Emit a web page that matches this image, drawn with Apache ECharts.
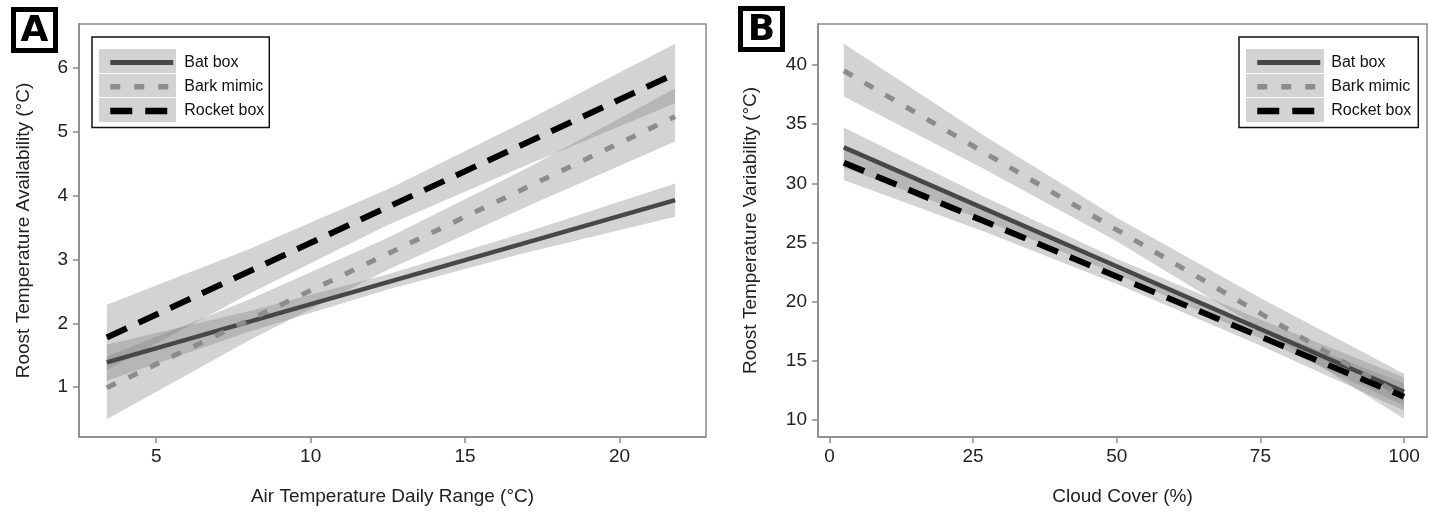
<!DOCTYPE html>
<html>
<head>
<meta charset="utf-8">
<script src="https://cdn.jsdelivr.net/npm/echarts@6/dist/echarts.min.js"></script>
<style>
html,body{margin:0;padding:0;background:#fff;}
#c{width:1434px;height:519px;}
</style>
</head>
<body>
<div id="c"></div>
<script>
// ---------- Panel A data ----------
const seriesNames = ['Bat box', 'Bark mimic', 'Rocket box'];
const lineA_x = [3.4, 21.8];
const batA = [1.39, 3.93];
const barkA = [0.99, 5.24];
const rocketA = [1.78, 5.91];
const bandA_x = [3.4, 8, 12.5, 17, 21.8];
const batA_lo = [1.10, 1.87, 2.53, 3.11, 3.67];
const batA_hi = [1.67, 2.19, 2.77, 3.43, 4.19];
const barkA_lo = [0.50, 1.73, 2.84, 3.83, 4.85];
const barkA_hi = [1.48, 2.37, 3.34, 4.43, 5.68];
const rocketA_lo = [1.27, 2.46, 3.54, 4.48, 5.45];
const rocketA_hi = [2.29, 3.16, 4.10, 5.18, 6.38];
const xTicksA = [5, 10, 15, 20];
const yTicksA = [1, 2, 3, 4, 5, 6];

// ---------- Panel B data ----------
const lineB_x = [2.5, 100];
const batB = [33.04, 12.39];
const barkB = [39.52, 11.93];
const rocketB = [31.75, 11.97];
const bandB_x = [2.5, 27, 50, 75, 100];
const batB_lo = [31.35, 26.85, 22.33, 16.9, 11.2];
const batB_hi = [34.73, 28.85, 23.63, 18.5, 13.6];
const barkB_lo = [37.35, 31.2, 25.1, 17.7, 10.1];
const barkB_hi = [41.8, 34.0, 27.1, 20.3, 13.9];
const rocketB_lo = [30.28, 25.9, 21.5, 16.3, 10.8];
const rocketB_hi = [33.2, 27.7, 22.7, 17.8, 13.1];
const xTicksB = [0, 25, 50, 75, 100];
const yTicksB = [10, 15, 20, 25, 30, 35, 40];

const FONT = 'Liberation Sans, Arial, sans-serif';
const AXIS_COLOR = '#8a8a8a';
const BAND_FILL = 'rgba(128,128,128,0.35)';
const styles = {
  'Bat box': {color: '#474747', width: 4.5, type: 'solid'},
  'Bark mimic': {color: '#8c8c8c', width: 5, type: [10, 14]},
  'Rocket box': {color: '#000000', width: 6, type: [22, 13]}
};

function bandSeries(idx, xs, lo, hi) {
  const rows = xs.map((x, i) => [x, lo[i], hi[i]]);
  return {
    type: 'custom', name: 'band', xAxisIndex: idx, yAxisIndex: idx,
    data: rows, silent: true, z: 1, animation: false,
    encode: {x: 0, y: [1, 2]},
    renderItem: function (params, api) {
      if (params.dataIndex !== 0) return null;
      const top = rows.map(r => api.coord([r[0], r[2]]));
      const bot = rows.map(r => api.coord([r[0], r[1]])).reverse();
      return {type: 'polygon', shape: {points: top.concat(bot)}, style: {fill: BAND_FILL}};
    }
  };
}

function lineSeries(idx, name, xs, ys) {
  const s = styles[name];
  return {
    type: 'line', name: name, xAxisIndex: idx, yAxisIndex: idx,
    data: xs.map((x, i) => [x, ys[i]]),
    showSymbol: false, symbol: 'none', z: 3, animation: false, silent: true,
    color: s.color,
    lineStyle: {color: s.color, width: s.width, type: s.type, cap: 'butt'}
  };
}

function xAxis(idx, min, max, ticks, name) {
  return {
    type: 'value', gridIndex: idx, min: min, max: max,
    name: name, nameLocation: 'middle', nameGap: 50,
    nameTextStyle: {fontSize: 19, color: '#222', fontFamily: FONT},
    axisLine: {show: true, onZero: false, lineStyle: {color: AXIS_COLOR, width: 1.5}},
    axisTick: {show: true, length: 6, customValues: ticks, lineStyle: {color: AXIS_COLOR, width: 1.5}},
    axisLabel: {customValues: ticks, fontSize: 19, color: '#222', fontFamily: FONT, margin: 10},
    splitLine: {show: false}
  };
}
function yAxis(idx, min, max, ticks, name, gap) {
  return {
    type: 'value', gridIndex: idx, min: min, max: max,
    name: name, nameLocation: 'middle', nameGap: gap,
    nameTextStyle: {fontSize: 19, color: '#222', fontFamily: FONT},
    axisLine: {show: true, onZero: false, lineStyle: {color: AXIS_COLOR, width: 1.5}},
    axisTick: {show: true, length: 6, customValues: ticks, lineStyle: {color: AXIS_COLOR, width: 1.5}},
    axisLabel: {customValues: ticks, fontSize: 19, color: '#222', fontFamily: FONT, margin: 11},
    splitLine: {show: false}
  };
}

function legend(left, pr) {
  return {
    orient: 'vertical', left: left, top: 37,
    data: seriesNames.map(n => ({
      name: n,
      itemStyle: {opacity: 0, borderWidth: 0},
      lineStyle: {color: styles[n].color, width: styles[n].width + 0.5, type: styles[n].type, cap: 'butt'}
    })),
    itemWidth: 63, itemHeight: 24, itemGap: 5,
    padding: [16, pr, 7, 15],
    borderColor: '#111', borderWidth: 1.5, borderRadius: 0,
    textStyle: {fontSize: 16, color: '#111', fontFamily: FONT, padding: [0, 0, 0, 6]},
    selectedMode: false, z: 10
  };
}

function keyRects(x0, w) {
  const ys = [[49, 24], [74, 23], [98, 24]];
  return ys.map(r => ({
    type: 'rect', z: 5,
    shape: {x: x0, y: r[0], width: w, height: r[1]},
    style: {fill: '#d3d3d3'}
  }));
}

function panelLabel(x, y, t) {
  return [
    {type: 'rect', shape: {x: x + 2.5, y: y + 2.5, width: 42, height: 41},
     style: {fill: '#fff', stroke: '#000', lineWidth: 5}, z: 20},
    {type: 'text', x: x + 23.5, y: y + 25, z: 21,
     style: {text: t, font: 'bold 36px DejaVu Sans, Verdana, sans-serif', fill: '#000',
             align: 'center', verticalAlign: 'middle'}}
  ];
}

const chart = echarts.init(document.getElementById('c'), null, {renderer: 'canvas'});
chart.setOption({
  animation: false,
  backgroundColor: '#fff',
  grid: [
    {left: 79, top: 24, width: 627, height: 413, show: true, borderColor: AXIS_COLOR, borderWidth: 1.5, backgroundColor: 'transparent'},
    {left: 818, top: 24, width: 609, height: 413, show: true, borderColor: AXIS_COLOR, borderWidth: 1.5, backgroundColor: 'transparent'}
  ],
  xAxis: [
    xAxis(0, 2.5, 22.8, xTicksA, 'Air Temperature Daily Range (°C)'),
    xAxis(1, -2, 104, xTicksB, 'Cloud Cover (%)')
  ],
  yAxis: [
    yAxis(0, 0.22, 6.69, yTicksA, 'Roost Temperature Availability (°C)', 46),
    yAxis(1, 8.56, 43.47, yTicksB, 'Roost Temperature Variability (°C)', 58)
  ],
  legend: [legend(92, 5), legend(1239, 7)],
  graphic: [].concat(
    keyRects(99, 77), keyRects(1246, 78),
    panelLabel(11, 7, 'A'), panelLabel(738, 6, 'B')
  ),
  series: [
    bandSeries(0, bandA_x, batA_lo, batA_hi),
    bandSeries(0, bandA_x, barkA_lo, barkA_hi),
    bandSeries(0, bandA_x, rocketA_lo, rocketA_hi),
    lineSeries(0, 'Bat box', lineA_x, batA),
    lineSeries(0, 'Bark mimic', lineA_x, barkA),
    lineSeries(0, 'Rocket box', lineA_x, rocketA),
    bandSeries(1, bandB_x, batB_lo, batB_hi),
    bandSeries(1, bandB_x, barkB_lo, barkB_hi),
    bandSeries(1, bandB_x, rocketB_lo, rocketB_hi),
    lineSeries(1, 'Bat box', lineB_x, batB),
    lineSeries(1, 'Bark mimic', lineB_x, barkB),
    lineSeries(1, 'Rocket box', lineB_x, rocketB)
  ]
});
</script>
</body>
</html>
